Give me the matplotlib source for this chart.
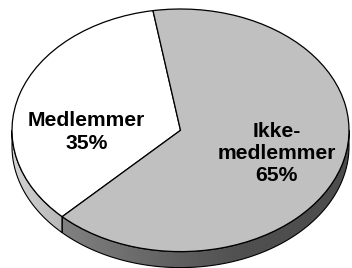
import numpy as np
import matplotlib
matplotlib.use("Agg")
import matplotlib.pyplot as plt
from matplotlib.patches import Polygon

categories = ["Medlemmer", "Ikke-\nmedlemmer"]
shares = [35, 65]
pct_labels = ["35%", "65%"]

top_colors = ["#ffffff", "#c0c0c0"]

W, H = 352, 268
cx, cy, rx, ry = 180.5, 130.3, 168.5, 121.3
depth = 16 / ry

fig = plt.figure(figsize=(W / 100, H / 100), dpi=100)
ax = fig.add_axes([0, 0, 1, 1])

wedges, _ = ax.pie(shares, colors=top_colors, startangle=99.4, counterclock=True,
                   radius=1.0, center=(0, 0),
                   wedgeprops=dict(edgecolor="black", linewidth=0.9, zorder=5))

xmin, xmax = -cx / rx, (W - cx) / rx
ymin, ymax = (cy - H) / ry, cy / ry
ax.set_aspect("auto")
ax.set_xlim(xmin, xmax)
ax.set_ylim(ymin, ymax)
ax.axis("off")

# side gradients (grey value as function of x position)
grad_specs = [
    ([-1.0, -0.65], [0.83, 0.70]),
    ([-0.67, 0.0, 0.4, 1.0], [0.50, 0.37, 0.31, 0.30]),
]
xs = np.linspace(xmin, xmax, 400)
for w, (gx, gv) in zip(wedges, grad_specs):
    lo = max(w.theta1, 180.0)
    hi = min(w.theta2, 360.0)
    if lo >= hi:
        continue
    t = np.radians(np.linspace(lo, hi, 300))
    topx, topy = np.cos(t), np.sin(t)
    pts = np.concatenate([np.column_stack([topx, topy]),
                          np.column_stack([topx[::-1], topy[::-1] - depth])])
    poly = Polygon(pts, closed=True, facecolor="none", edgecolor="black",
                   linewidth=0.8, zorder=3)
    ax.add_patch(poly)
    vals = np.interp(xs, gx, gv)
    img = np.tile(vals, (2, 1))
    im = ax.imshow(img, cmap="gray", vmin=0, vmax=1, extent=(xmin, xmax, ymin, ymax),
                   aspect="auto", zorder=2, interpolation="bilinear")
    clip = Polygon(pts, closed=True, transform=ax.transData)
    im.set_clip_path(clip)

ax.set_xlim(xmin, xmax)
ax.set_ylim(ymin, ymax)

label_pos = [(-0.558, -0.015), (0.569, -0.19)]
for cat, pct, (lx, ly) in zip(categories, pct_labels, label_pos):
    ax.text(lx, ly, f"{cat}\n{pct}", ha="center", va="center", fontsize=15.2,
            fontweight="bold", family=["Liberation Sans", "DejaVu Sans"],
            linespacing=1.22, zorder=10)

fig.savefig("out.png", dpi=100)
